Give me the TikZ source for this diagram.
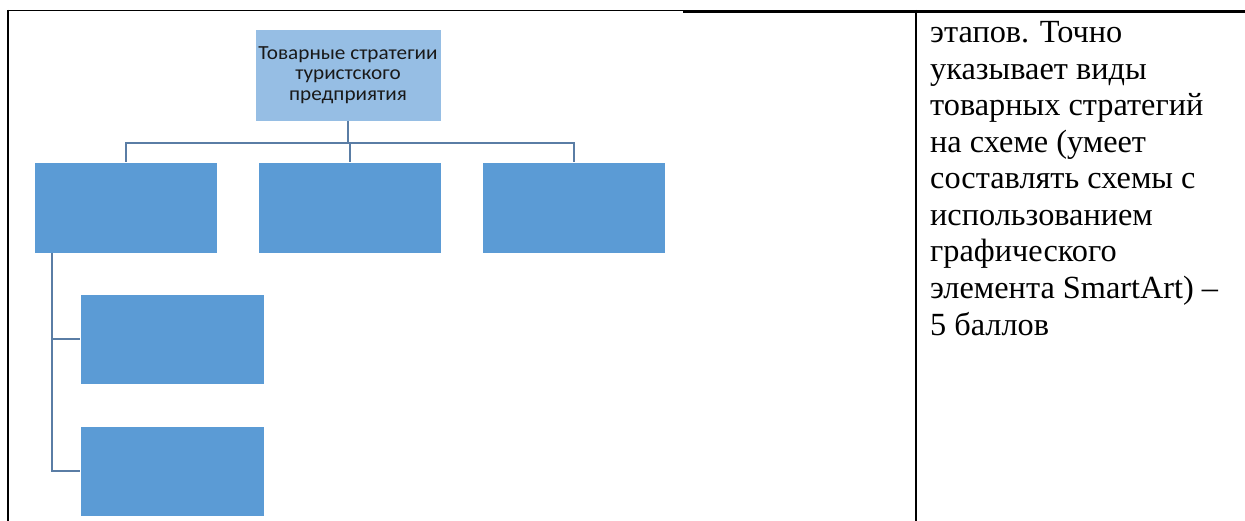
\documentclass[tikz,border=0pt]{standalone}
\usepackage{fontspec}
\newfontfamily\serfont{Liberation Serif}
\newfontfamily\calfont[FakeStretch=1.06]{Carlito}
\definecolor{boxblue}{HTML}{5B9BD5}
\definecolor{topblue}{HTML}{96BEE4}
\definecolor{connc}{HTML}{5A7DA5}
\begin{document}
\begin{tikzpicture}[x=1pt,y=-1pt,
  blk/.style={rectangle,fill=boxblue,draw=white,line width=0.8pt,inner sep=0pt,outer sep=0pt,minimum width=183pt,minimum height=91pt},
  topblk/.style={rectangle,fill=topblue,draw=white,line width=0.8pt,inner sep=0pt,outer sep=0pt,minimum width=186pt,minimum height=92pt,
    align=center,font=\calfont\fontsize{20}{20.5}\selectfont,text=black!90},
  conn/.style={draw=connc,line width=2pt},
  rule/.style={draw=black,line width=2.4pt},
  txt/.style={anchor=base west,inner sep=0pt,font=\serfont\fontsize{32.3}{36.5}\selectfont}]
\useasboundingbox (0,0) rectangle (1245,521);
% table rules
\draw[black,line width=1.6pt] (7,10.5) -- (683,10.5);
\draw[rule] (683,11.5) -- (1245,11.5);
\draw[rule] (8,10) -- (8,521);
\draw[rule] (916,10) -- (916,521);
% diagram
\node[topblk] (top) at (348,75) {Товарные стратегии\\туристского\\предприятия};
\node[blk] (a) at (125.5,207.5) {};
\node[blk] (b) at (349.5,207.5) {};
\node[blk] (c) at (573.5,207.5) {};
\node[blk,minimum width=184pt,minimum height=90pt] (c1) at (172,339) {};
\node[blk,minimum width=184pt,minimum height=90pt] (c2) at (172,471) {};
\coordinate (bus) at (0,143);
\draw[conn] (top.south) -- (top.south |- bus);
\draw[conn] (a.north) -- (a.north |- bus) -- (c.north |- bus) -- (c.north);
\draw[conn] (b.north) -- (b.north |- bus);
\coordinate (trunk) at ([xshift=18pt]a.south west);
\draw[conn] (trunk) |- (c1.west);
\draw[conn] (trunk) |- (c2.west);
% right column text
\node[txt] (l1) at (930,43) {этапов. Точно};
\node[txt] (l2) at (930,79.5) {указывает виды};
\node[txt] (l3) at (930,116) {товарных стратегий};
\node[txt] (l4) at (930,152.5) {на схеме (умеет};
\node[txt] (l5) at (930,189) {составлять схемы с};
\node[txt] (l6) at (930,225.5) {использованием};
\node[txt] (l7) at (930,262) {графического};
\node[txt] (l8) at (930,298.5) {элемента SmartArt) –};
\node[txt] (l9) at (930,335) {5 баллов};
\end{tikzpicture}
\end{document}
